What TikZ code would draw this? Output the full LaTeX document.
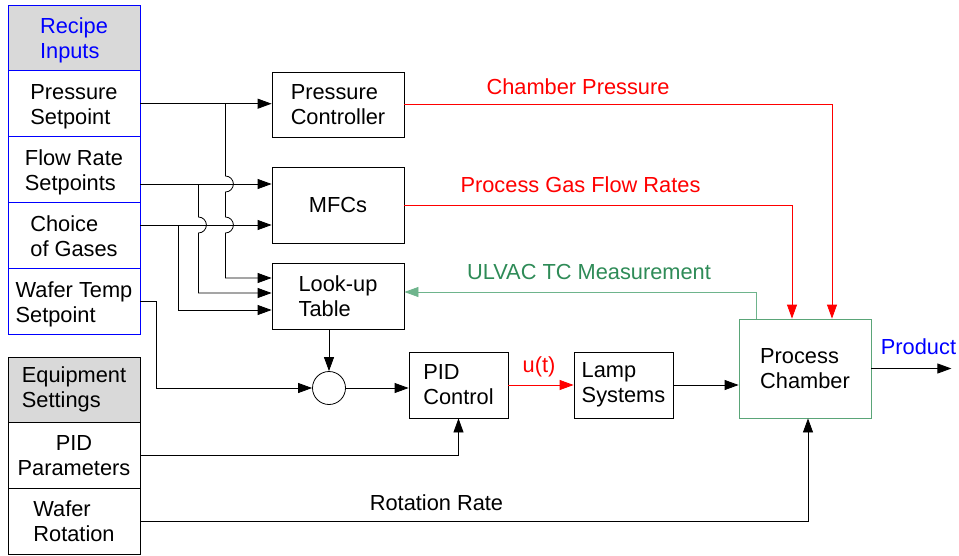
\documentclass[tikz,border=0pt]{standalone}
\usepackage{fontspec}
\setmainfont{Liberation Sans}
\usepackage{tikz}
\usetikzlibrary{arrows.meta, calc}
\definecolor{myred}{RGB}{255,0,0}
\definecolor{myblue}{RGB}{0,0,255}
\definecolor{mydark}{RGB}{0,0,0}
\definecolor{mygreen}{RGB}{46,139,87}
\definecolor{mylinegreen}{RGB}{110,180,140}
\definecolor{myboxgreen}{RGB}{90,165,120}
\definecolor{hdrgray}{RGB}{217,217,217}
\tikzset{
  recipebox/.style={rectangle, draw=myblue, minimum width=132pt,
    minimum height=65.8pt, align=left, inner sep=0pt, line width=0.8pt,
    text height=47pt, text depth=5pt},
  recipehdr/.style={recipebox, fill=hdrgray, text=myblue},
  equipbox/.style={rectangle, draw=mydark, minimum width=132pt,
    minimum height=65.7pt, align=left, inner sep=0pt, line width=0.8pt},
  equiphdr/.style={equipbox, fill=hdrgray},
  block/.style={rectangle, draw=mydark, align=left, inner sep=0pt,
    line width=0.8pt},
  chamberblock/.style={block, draw=myboxgreen},
  sumjunc/.style={circle, draw=mydark, minimum size=33pt, inner sep=0pt,
    line width=0.8pt},
  arrow/.style={-{Triangle[length=14pt,width=10pt]}, line width=0.8pt, color=mydark},
  redarrow/.style={arrow, color=myred},
  greenarrow/.style={arrow, color=mylinegreen},
  line/.style={line width=0.8pt, color=mydark}
}

\begin{document}
\begin{tikzpicture}[x=1pt, y=-1pt, font=\fontsize{21.8}{25}\selectfont]
  \useasboundingbox (0,0) rectangle (959,555);

  % Recipe inputs
  \node[recipehdr] (recipe) at (74,37.9) {Recipe\\Inputs};
  \node[recipebox] (pset) at (74,103.7) {Pressure\\Setpoint};
  \node[recipebox] (flow) at (74,169.5) {Flow Rate\\Setpoints};
  \node[recipebox] (gases) at (74,235.3) {Choice\\of Gases};
  \node[recipebox] (tset) at (74,301.1) {Wafer Temp\\Setpoint};

  % Equipment settings
  \node[equiphdr] (equip) at (74,389.8) {Equipment\\Settings};
  \node[equipbox, align=center] (pidpar) at (74,455.5) {PID\\Parameters};
  \node[equipbox] (rot) at (74,521.2) {Wafer\\Rotation};

  % Control blocks
  \node[block, minimum width=132pt, minimum height=65pt] (press) at (338,104.5) {Pressure\\Controller};
  \node[block, minimum width=132pt, minimum height=76pt] (mfc) at (338,205) {MFCs};
  \node[block, minimum width=132pt, minimum height=66pt] (lut) at (338,296) {Look-up\\Table};
  \node[sumjunc] (sum) at (329,388) {};
  \node[block, minimum width=99pt, minimum height=66pt] (pid) at (458.5,385) {PID\\Control};
  \node[block, minimum width=99pt, minimum height=66pt] (lamp) at (623.5,385) {Lamp\\Systems};
  \node[chamberblock, minimum width=132pt, minimum height=99pt] (chamber) at (805,368.5) {Process\\Chamber};

  % Setpoints to controllers
  \coordinate (fout) at ([yshift=-14.5pt]flow.east);
  \coordinate (gout) at ([yshift=10.3pt]gases.east);
  \draw[arrow] (pset.east) -- (pset.east -| press.west);
  \draw[arrow] (fout) -- (fout -| mfc.west);
  \draw[arrow] (gout) -- (gout -| mfc.west);
  \path (pset.east) -- ++(85,0) coordinate (pbr);
  \path (fout) -- ++(58,0) coordinate (fbr);
  \path (gout) -- ++(38,0) coordinate (gbr);
  \draw[arrow] (pbr) -- ($(pbr |- fout)+(0,-8)$) arc (90:-90:8pt)
    -- ($(pbr |- gout)+(0,-8)$) arc (90:-90:8pt) |- ([yshift=18pt]lut.west);
  \draw[arrow] (fbr) -- ($(fbr |- gout)+(0,-8)$) arc (90:-90:8pt)
    |- ([yshift=3pt]lut.west);
  \draw[arrow] (gbr) |- ([yshift=-14pt]lut.west);

  % Temperature loop
  \draw[arrow] (tset.east) -- ++(16,0) |- (sum.west);
  \draw[arrow] (lut.south -| sum.north) -- (sum.north);
  \draw[arrow] (sum.east) -- (sum.east -| pid.west);
  \draw[redarrow] (pid) -- (lamp);
  \node[text=myred] (ulbl) at (539,367) {u(t)};
  \draw[arrow] (lamp.east) -- (lamp.east -| chamber.west);
  \draw[arrow] (pidpar.east) -| (pid.south);

  % Chamber inputs and outputs
  \draw[redarrow] (press.east) -| ([xshift=27pt]chamber.north);
  \node[text=myred] (cplbl) at (578,87) {Chamber Pressure};
  \draw[redarrow] (mfc.east) -| ([xshift=-13pt]chamber.north);
  \node[text=myred] (gflbl) at (580.5,185) {Process Gas Flow Rates};
  \draw[greenarrow] ([xshift=-49pt]chamber.north) |- ([yshift=4pt]lut.east);
  \node[text=mygreen] (tclbl) at (589,272) {ULVAC TC Measurement};
  \draw[arrow] (rot.east) -| ([xshift=3pt]chamber.south);
  \node (rotlbl) at (436.5,503) {Rotation Rate};
  \draw[arrow] (chamber.east) -- ++(80,0) coordinate (prodend);
  \node[text=myblue] (prodlbl) at (918.5,347) {Product};
\end{tikzpicture}
\end{document}
